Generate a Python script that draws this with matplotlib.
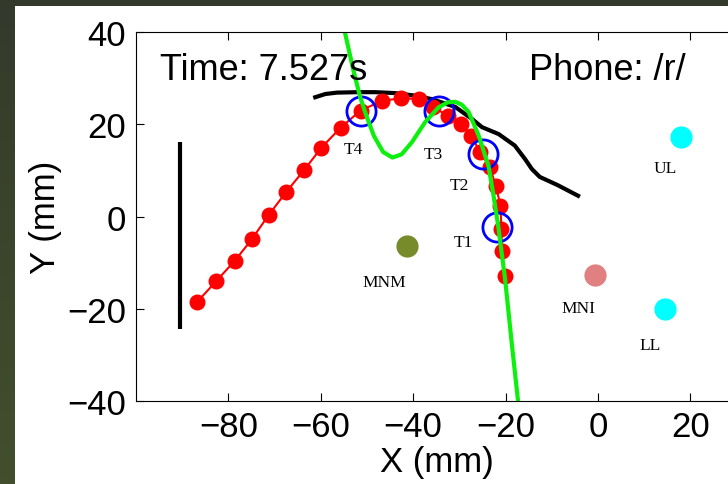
import numpy as np
import matplotlib
matplotlib.use('Agg')
import matplotlib.pyplot as plt
from matplotlib.patches import Rectangle

# tongue sensor chain (red)
chain_x = [-86.8, -82.7, -78.6, -74.9, -71.3, -67.5, -63.6, -59.9, -55.7, -51.4,
           -46.8, -42.6, -38.8, -35.6, -32.5, -29.6, -27.4, -25.5, -23.4, -22.1,
           -21.1, -20.9, -20.8, -20.2]
chain_y = [-18.6, -14.1, -9.6, -4.9, 0.3, 5.3, 10.1, 14.9, 19.3, 23.0,
           25.1, 25.7, 25.5, 23.7, 21.9, 20.1, 17.5, 13.9, 10.7, 6.7,
           2.3, -2.7, -7.4, -12.9]

# tongue sensors T1..T4
sens_names = ['T1', 'T2', 'T3', 'T4']
sens_x = [-21.9, -24.9, -34.5, -51.4]
sens_y = [-2.3, 13.6, 23.0, 23.0]
sens_lx = [-29.1, -29.9, -35.6, -52.9]
sens_ly = [-5.6, 6.8, 13.6, 14.7]

# green fitted curve
green_x = [-55.0, -53.0, -51.5, -50.0, -48.5, -46.5, -44.5, -42.5, -40.3, -37.4,
           -34.5, -32.5, -30.9, -29.5, -28.0, -25.8, -23.7, -22.6, -21.6, -20.1,
           -18.6, -17.2]
green_y = [41.0, 32.0, 26.0, 21.5, 17.5, 14.0, 12.8, 13.5, 16.1, 20.5,
           23.7, 24.8, 24.9, 24.3, 22.7, 17.5, 11.0, 4.5, -2.0, -13.6,
           -28.1, -41.0]

# palate trace (black)
palate_x = [-61.2, -59.0, -56.5, -52.0, -48.2, -44.0, -40.0, -36.0, -30.9, -27.3,
            -25.1, -21.5, -18.0, -15.8, -14.3, -12.6, -8.7, -4.3]
palate_y = [25.9, 26.6, 26.9, 27.0, 27.0, 26.8, 26.3, 25.5, 23.8, 21.2,
            19.4, 17.9, 15.4, 12.5, 10.3, 8.6, 6.8, 4.5]

# reference bar
bar_x = [-90.4, -90.4]
bar_y = [16.2, -24.4]

# other sensors
ref_names = ['MNM', 'MNI', 'UL', 'LL']
ref_x = [-41.3, -0.6, 18.0, 14.5]
ref_y = [-6.4, -12.7, 17.3, -20.1]
ref_lx = [-46.2, -4.3, 14.6, 11.3]
ref_ly = [-14.2, -19.9, 10.5, -27.9]
ref_colors = ['#778b2a', '#e08080', '#00ffff', '#00ffff']

time_text = 'Time: 7.527s'
phone_text = 'Phone: /r/'

fig = plt.figure(figsize=(7.28, 4.85), dpi=100)
fig.patch.set_facecolor('white')

# dark frame on the left and top
grad = fig.add_axes([0, 0, 15 / 728, 1])
grad.imshow(np.linspace(0, 1, 100).reshape(-1, 1), aspect='auto',
            cmap=matplotlib.colors.LinearSegmentedColormap.from_list('f', ['#343a2b', '#424f2d']))
grad.axis('off')
fig.add_artist(Rectangle((0, 1 - 7 / 485), 1, 7 / 485, transform=fig.transFigure,
                         facecolor='#343a2b', edgecolor='none', zorder=5))

ax = fig.add_axes([136 / 728, 83.3 / 485, 601 / 728, 368.4 / 485])
ax.set_xlim(-100, 30.1)
ax.set_ylim(-40, 40)

font = 'Liberation Sans'
serif = 'Liberation Serif'

ax.plot(bar_x, bar_y, color='black', lw=3, solid_capstyle='butt')
ax.plot(palate_x, palate_y, color='black', lw=3)
ax.plot(chain_x, chain_y, color='red', lw=1.5, marker='o', ms=10.5, mec='red', mfc='red')
ax.plot(sens_x, sens_y, ls='none', marker='o', ms=21, mfc='none', mec='blue', mew=2)
ax.plot(green_x, green_y, color='#0df00d', lw=3)

for x, y, c in zip(ref_x, ref_y, ref_colors):
    ax.plot(x, y, marker='o', ms=15, color=c, mec=c)

for n, x, y in zip(sens_names + ref_names, sens_lx + ref_lx, sens_ly + ref_ly):
    ax.text(x, y, n, ha='center', va='center', fontsize=12.5, family=serif)

ax.text(-94.8, 29.9, time_text, fontsize=26, family=font, va='baseline')
ax.text(-14.9, 29.9, phone_text, fontsize=26, family=font, va='baseline')

ax.set_xticks([-80, -60, -40, -20, 0, 20])
ax.set_xticklabels(['\u221280', '\u221260', '\u221240', '\u221220', '0', '20'])
ax.set_yticks([-40, -20, 0, 20, 40])
ax.set_yticklabels(['\u221240', '\u221220', '0', '20', '40'])
ax.tick_params(direction='in', length=6, width=0.8, top=True, right=True,
               labelsize=25, pad=7)
for lab in ax.get_xticklabels() + ax.get_yticklabels():
    lab.set_family(font)
ax.set_xlabel('X (mm)', fontsize=25, family=font, labelpad=1)
ax.set_ylabel('Y (mm)', fontsize=25, family=font, labelpad=4)

fig.savefig('out.png', dpi=100)
